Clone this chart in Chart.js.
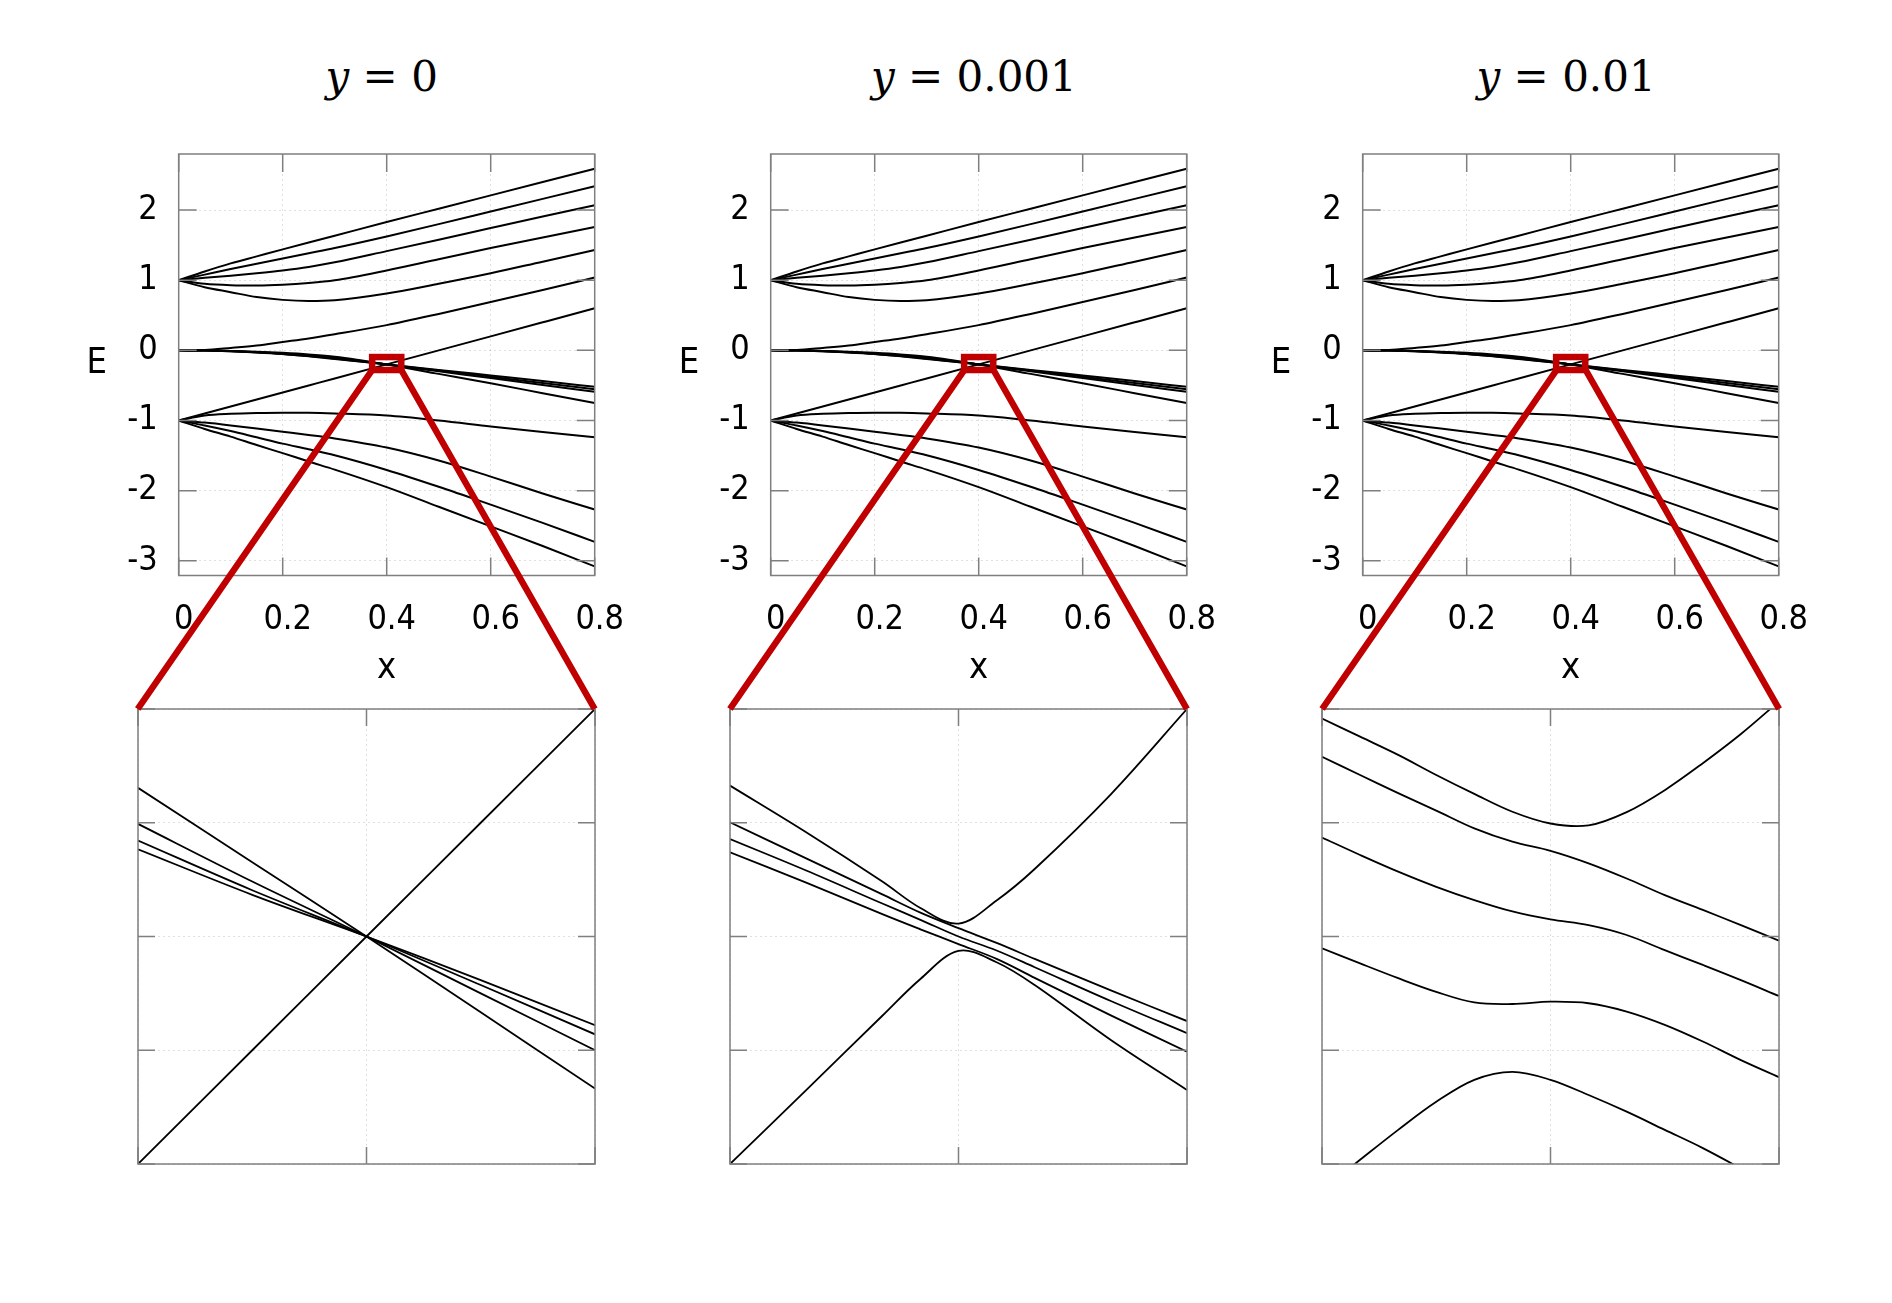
<!DOCTYPE html>
<html>
<head>
<meta charset="utf-8">
<script src="https://cdn.jsdelivr.net/npm/chart.js@4.4.1/dist/chart.umd.min.js"></script>
<style>
  html, body { margin: 0; padding: 0; background: #fff; }
  body { width: 1892px; height: 1303px; position: relative; overflow: hidden; }
  canvas.plot { position: absolute; }
  .title { position: absolute; width: 400px; text-align: center; font-family: "DejaVu Serif", serif; font-size: 42px; line-height: 50px; color: #000; white-space: pre; }
  .elabel { position: absolute; width: 40px; text-align: center; font-family: "DejaVu Sans Condensed", "DejaVu Sans", sans-serif; font-size: 36px; line-height: 40px; color: #000; }
  #overlay { position: absolute; left: 0; top: 0; pointer-events: none; }
</style>
</head>
<body>
<canvas id="overlay" width="1892" height="1303"></canvas>
<script>
// titles of the three columns
const panelY = ['0', '0.001', '0.01'];

// ---- big plots: E(x), same spectrum for all three columns at this scale
const topX = [0, 0.05, 0.1, 0.15, 0.2, 0.25, 0.3, 0.4, 0.5, 0.6, 0.7, 0.8];
const topXTicks = [0, 0.2, 0.4, 0.6, 0.8];
const topXLabels = ['0', '0.2', '0.4', '0.6', '0.8'];
const topYTicks = [-3, -2, -1, 0, 1, 2];
const topYLabels = ['-3', '-2', '-1', '0', '1', '2'];

// levels leaving E = 1
const up1 = [1, 1.125, 1.24, 1.34, 1.44, 1.538, 1.635, 1.83, 2.02, 2.21, 2.4, 2.59];
const up2 = [1, 1.08, 1.16, 1.235, 1.31, 1.385, 1.46, 1.625, 1.8, 1.98, 2.16, 2.34];
const up3 = [1, 1.035, 1.065, 1.1, 1.14, 1.19, 1.255, 1.415, 1.578, 1.745, 1.91, 2.07];
const up4 = [1, 0.95, 0.93, 0.925, 0.935, 0.96, 1.0, 1.14, 1.3, 1.46, 1.61, 1.76];
const up5 = [1, 0.9, 0.83, 0.76, 0.72, 0.705, 0.715, 0.81, 0.95, 1.1, 1.265, 1.43];
// levels leaving E = 0
const zeroUp = [0, 0.005, 0.035, 0.07, 0.12, 0.17, 0.23, 0.36, 0.52, 0.69, 0.86, 1.04];
const zero1 = [0, 0, -0.008, -0.018, -0.035, -0.058, -0.09, -0.2, -0.335, -0.47, -0.61, -0.75];
const zero2 = [0, -0.002, -0.01, -0.025, -0.045, -0.072, -0.105, -0.2, -0.298, -0.395, -0.493, -0.59];
const zero3 = [0, -0.003, -0.012, -0.028, -0.05, -0.08, -0.115, -0.2, -0.286, -0.375, -0.465, -0.555];
const zero4 = [0, -0.003, -0.013, -0.03, -0.053, -0.085, -0.122, -0.2, -0.278, -0.358, -0.438, -0.52];
// levels leaving E = -1
const rising = [-1, -0.9, -0.8, -0.7, -0.6, -0.5, -0.4, -0.2, 0, 0.2, 0.4, 0.6];
const low1 = [-1, -0.93, -0.905, -0.893, -0.888, -0.89, -0.9, -0.93, -1.0, -1.085, -1.165, -1.24];
const low2 = [-1, -1.03, -1.07, -1.115, -1.16, -1.205, -1.255, -1.385, -1.57, -1.8, -2.04, -2.27];
const low3 = [-1, -1.07, -1.15, -1.24, -1.33, -1.41, -1.495, -1.705, -1.945, -2.2, -2.46, -2.73];
const low4 = [-1, -1.12, -1.23, -1.35, -1.465, -1.585, -1.7, -1.95, -2.23, -2.51, -2.79, -3.08];

const topCurves = [up1, up2, up3, up4, up5, zeroUp, zero1, zero2, zero3, zero4, rising, low1, low2, low3, low4];

// zoom window (red box)
const zoomX = [0.372, 0.428];
const zoomE = [-0.095, -0.28];

// ---- insets: x in [0.37, 0.43], E in [-0.26, -0.14]
const insetXTicks = [0.37, 0.40, 0.43];
const insetYTicks = [-0.26, -0.23, -0.20, -0.17, -0.14];

// y = 0 : everything crosses at one point
const in1X = [0.37, 0.385, 0.40, 0.415, 0.43];
const in1Rise = [-0.26, -0.23, -0.20, -0.17, -0.14];
const in1A = [-0.1608, -0.1804, -0.2, -0.22, -0.2401];
const in1B = [-0.1703, -0.1855, -0.2, -0.215, -0.23];
const in1C = [-0.1747, -0.1878, -0.2, -0.2128, -0.2258];
const in1D = [-0.177, -0.189, -0.2, -0.2115, -0.2234];

// y = 0.001 : small gaps open
const in2X = [0.37, 0.38, 0.39, 0.395, 0.40, 0.405, 0.41, 0.42, 0.43];
const in2Upper = [-0.1602, -0.1725, -0.1855, -0.1925, -0.1966, -0.1905, -0.1822, -0.1625, -0.14];
const in2A = [-0.1699, -0.1794, -0.1889, -0.1937, -0.1978, -0.2017, -0.2059, -0.2142, -0.2223];
const in2B = [-0.1743, -0.1826, -0.1913, -0.1956, -0.2, -0.2037, -0.2081, -0.217, -0.2255];
const in2C = [-0.1778, -0.1858, -0.1941, -0.1981, -0.202, -0.2059, -0.2109, -0.2208, -0.2304];
const in2Lower = [-0.26, -0.2405, -0.2209, -0.2112, -0.2038, -0.2068, -0.2128, -0.2273, -0.2405];

// y = 0.01 : wide anticrossings
const in3X = [0.37, 0.375, 0.38, 0.385, 0.39, 0.395, 0.40, 0.405, 0.41, 0.415, 0.42, 0.425, 0.43];
const in3A = [-0.1425, -0.1473, -0.1521, -0.1574, -0.1624, -0.1671, -0.1702, -0.1707, -0.1672, -0.1614, -0.1543, -0.1466, -0.138];
const in3B = [-0.1526, -0.1574, -0.1622, -0.1668, -0.1715, -0.175, -0.1774, -0.1807, -0.1847, -0.1891, -0.193, -0.197, -0.2011];
const in3C = [-0.1739, -0.1785, -0.1829, -0.1869, -0.1904, -0.1934, -0.1955, -0.197, -0.1996, -0.2036, -0.2075, -0.2115, -0.2157];
const in3D = [-0.2031, -0.2071, -0.211, -0.2146, -0.2174, -0.2178, -0.2172, -0.2176, -0.2198, -0.2233, -0.2277, -0.2326, -0.2371];
const in3E = [-0.2669, -0.2589, -0.251, -0.2436, -0.2378, -0.2357, -0.2378, -0.2418, -0.2462, -0.251, -0.2558, -0.2612, -0.2669];

const insets = [
  { x: in1X, curves: [in1Rise, in1A, in1B, in1C, in1D] },
  { x: in2X, curves: [in2Upper, in2A, in2B, in2C, in2Lower] },
  { x: in3X, curves: [in3A, in3B, in3C, in3D, in3E] }
];

const SHIFT = 592.2;
const FONT = "'DejaVu Sans Condensed', 'DejaVu Sans', sans-serif";
const GRID = 'rgba(0,0,0,0.12)';
const FRAME = '#7f7f7f';
const RED = '#c00000';

Chart.defaults.font.family = FONT;
Chart.defaults.color = '#000';

// frame + inward ticks like the original plotting program
const frameTicks = {
  id: 'frameTicks',
  afterDraw(chart, args, opts) {
    const { ctx, chartArea: a, scales } = chart;
    const len = opts.len;
    ctx.save();
    ctx.strokeStyle = FRAME;
    ctx.lineWidth = 1.5;
    ctx.beginPath();
    scales.x.ticks.forEach(t => {
      const px = scales.x.getPixelForValue(t.value);
      ctx.moveTo(px, a.bottom); ctx.lineTo(px, a.bottom - len);
      ctx.moveTo(px, a.top); ctx.lineTo(px, a.top + len);
    });
    scales.y.ticks.forEach(t => {
      const py = scales.y.getPixelForValue(t.value);
      ctx.moveTo(a.left, py); ctx.lineTo(a.left + len, py);
      ctx.moveTo(a.right, py); ctx.lineTo(a.right - len, py);
    });
    ctx.stroke();
    ctx.strokeRect(a.left, a.top, a.right - a.left, a.bottom - a.top);
    ctx.restore();
  }
};

// red zoom box in the big plots
const zoomBox = {
  id: 'zoomBox',
  afterDraw(chart) {
    const { ctx, scales } = chart;
    const x1 = scales.x.getPixelForValue(zoomX[0]), x2 = scales.x.getPixelForValue(zoomX[1]);
    const y1 = scales.y.getPixelForValue(zoomE[0]), y2 = scales.y.getPixelForValue(zoomE[1]);
    ctx.save();
    ctx.strokeStyle = RED;
    ctx.lineWidth = 6.5;
    ctx.strokeRect(x1, y1, x2 - x1, y2 - y1);
    ctx.restore();
  }
};

function addCanvas(left, top, w, h) {
  const c = document.createElement('canvas');
  c.className = 'plot';
  c.width = w; c.height = h;
  c.style.left = left + 'px'; c.style.top = top + 'px';
  c.style.width = w + 'px'; c.style.height = h + 'px';
  document.body.insertBefore(c, document.getElementById('overlay'));
  return c;
}

function lineSets(xs, curves, width, smooth) {
  return curves.map(c => Object.assign({
    data: xs.map((x, i) => ({ x: x, y: c[i] })),
    borderColor: '#000',
    borderWidth: width,
    pointRadius: 0,
    fill: false
  }, smooth));
}

const topPos = [], topCharts = [], insetPos = [], insetCharts = [];

for (let k = 0; k < 3; k++) {
  // big plot
  const tl = 60 + k * SHIFT, tt = 112;
  topPos.push([tl, tt]);
  const cTop = addCanvas(tl, tt, 585, 578);
  topCharts.push(new Chart(cTop, {
    type: 'line',
    data: { datasets: lineSets(topX, topCurves, 2, { cubicInterpolationMode: 'monotone' }) },
    options: {
      responsive: false,
      animation: false,
      layout: { padding: { left: 0, right: 50.3, top: 42, bottom: 0 } },
      plugins: { legend: { display: false }, tooltip: { enabled: false }, frameTicks: { len: 18 } },
      scales: {
        x: {
          type: 'linear', min: 0, max: 0.8,
          afterBuildTicks: s => { s.ticks = topXTicks.map(v => ({ value: v })); },
          afterFit: s => { s.height = 114.5; },
          ticks: { font: { size: 34 }, padding: 24, labelOffset: 5, maxRotation: 0, autoSkip: false,
                   callback: (v, i) => topXLabels[i] },
          grid: { color: GRID, drawTicks: false },
          border: { display: false, dash: [2, 3] },
          title: { display: true, text: 'x', font: { size: 36 }, padding: 0 }
        },
        y: {
          type: 'linear', min: -3.21, max: 2.8,
          afterBuildTicks: s => { s.ticks = topYTicks.map(v => ({ value: v })); },
          afterFit: s => { s.width = 118.7; },
          ticks: { font: { size: 34 }, padding: 21, autoSkip: false,
                   callback: (v, i) => topYLabels[i] },
          grid: { color: GRID, drawTicks: false },
          border: { display: false, dash: [2, 3] }
        }
      }
    },
    plugins: [frameTicks, zoomBox]
  }));

  // zoomed inset
  const il = 135.7 + k * SHIFT, it = 707;
  insetPos.push([il, it]);
  const cIn = addCanvas(il, it, 461, 459);
  insetCharts.push(new Chart(cIn, {
    type: 'line',
    data: { datasets: lineSets(insets[k].x, insets[k].curves, 1.8, { tension: 0.35 }) },
    options: {
      responsive: false,
      animation: false,
      layout: { padding: 2 },
      plugins: { legend: { display: false }, tooltip: { enabled: false }, frameTicks: { len: 17 } },
      scales: {
        x: {
          type: 'linear', min: 0.37, max: 0.43,
          afterBuildTicks: s => { s.ticks = insetXTicks.map(v => ({ value: v })); },
          ticks: { display: false },
          grid: { color: GRID, drawTicks: false },
          border: { display: false, dash: [2, 3] }
        },
        y: {
          type: 'linear', min: -0.26, max: -0.14,
          afterBuildTicks: s => { s.ticks = insetYTicks.map(v => ({ value: v })); },
          ticks: { display: false },
          grid: { color: GRID, drawTicks: false },
          border: { display: false, dash: [2, 3] }
        }
      }
    },
    plugins: [frameTicks]
  }));

  // column title and E label
  const cx = tl + 118.7 + 208 - 5;
  const t = document.createElement('div');
  t.className = 'title';
  t.style.left = (cx - 200) + 'px';
  t.style.top = '52px';
  t.innerHTML = '<i>y</i> = ' + panelY[k];
  document.body.appendChild(t);

  const e = document.createElement('div');
  e.className = 'elabel';
  e.style.left = (76.7 + k * SHIFT) + 'px';
  e.style.top = '341px';
  e.textContent = 'E';
  document.body.appendChild(e);
}

// red lines from the zoom box to the inset corners
const ov = document.getElementById('overlay');
ov.style.zIndex = 10;
const g = ov.getContext('2d');
g.strokeStyle = RED;
g.lineWidth = 6.5;
for (let k = 0; k < 3; k++) {
  const tc = topCharts[k], ic = insetCharts[k];
  const [tl, tt] = topPos[k], [il, it] = insetPos[k];
  const bx1 = tl + tc.scales.x.getPixelForValue(zoomX[0]);
  const bx2 = tl + tc.scales.x.getPixelForValue(zoomX[1]);
  const by = tt + tc.scales.y.getPixelForValue(zoomE[1]);
  const a = ic.chartArea;
  g.beginPath();
  g.moveTo(bx1, by); g.lineTo(il + a.left, it + a.top);
  g.moveTo(bx2, by); g.lineTo(il + a.right, it + a.top);
  g.stroke();
}
</script>
</body>
</html>
